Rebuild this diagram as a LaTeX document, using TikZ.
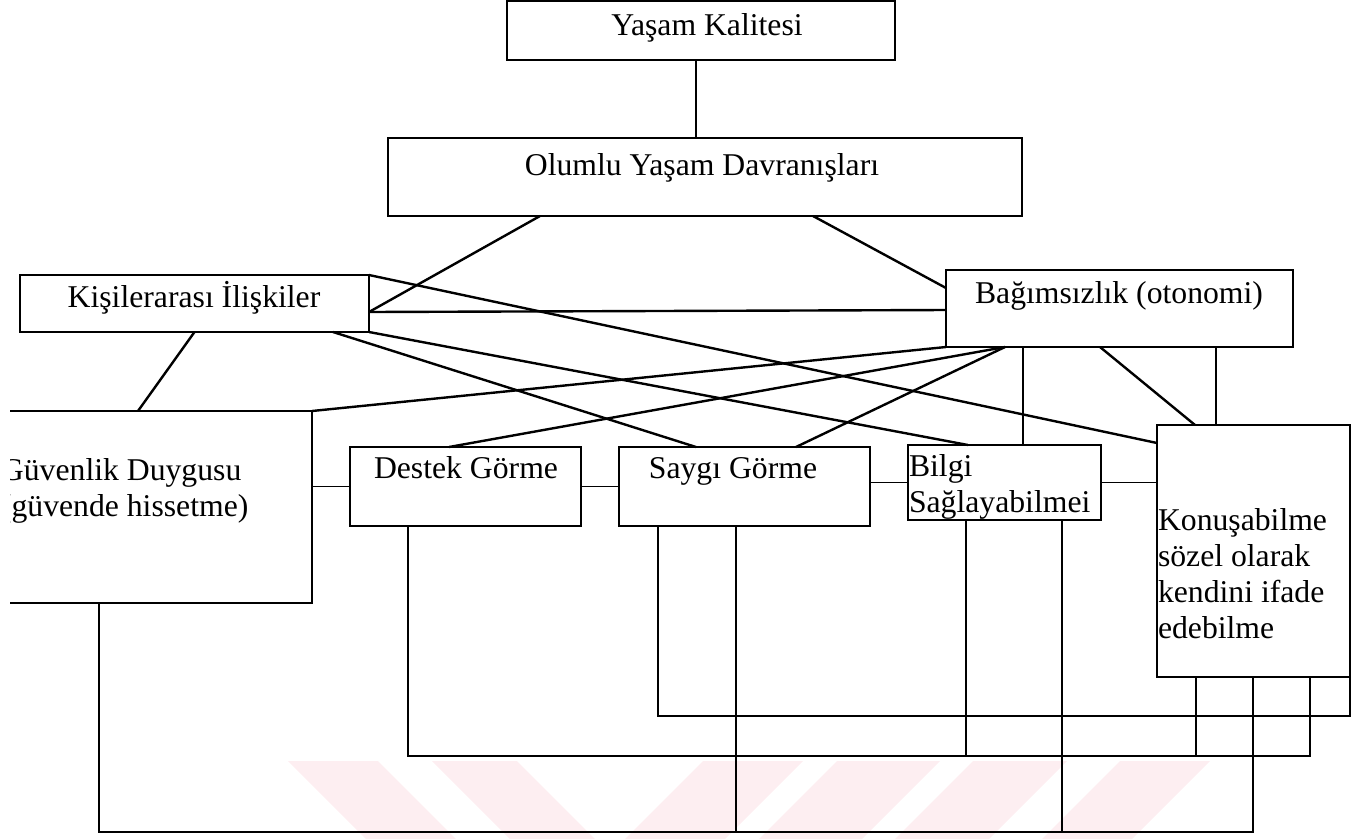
\documentclass[tikz,border=0pt]{standalone}
\usepackage{fontspec}
\setmainfont{Liberation Serif}
\definecolor{wm}{RGB}{253,238,241}
\begin{document}
\begin{tikzpicture}[x=1pt,y=-1pt,
  box/.style={draw, rectangle, inner sep=0pt, outer sep=0pt, line width=1.8pt},
  lbl/.style={inner sep=0pt, outer sep=0pt, font=\fontsize{31.7}{36}\selectfont},
  diag/.style={line width=2.4pt},
  wire/.style={line width=1.6pt}]
\useasboundingbox (0,0) rectangle (1352,839);
% watermark
\fill[wm] (288,761) -- (378,761) -- (456,839) -- (366,839) -- cycle;
\fill[wm] (432,761) -- (517,761) -- (595,839) -- (510,839) -- cycle;
\fill[wm] (703,761) -- (803,761) -- (725,839) -- (625,839) -- cycle;
\fill[wm] (837,761) -- (940,761) -- (862,839) -- (759,839) -- cycle;
\fill[wm] (973,761) -- (1067,761) -- (989,839) -- (895,839) -- cycle;
\fill[wm] (1120,761) -- (1210,761) -- (1132,839) -- (1042,839) -- cycle;
\begin{scope}
\clip (10,-5) rectangle (1360,845);
% boxes
\node[box, minimum width=388pt, minimum height=59pt] (yasam) at (701,30.5) {};
\node[box, minimum width=634pt, minimum height=78pt] (olumlu) at (705,177) {};
\node[box, minimum width=349pt, minimum height=57pt] (kisi) at (194.5,303.5) {};
\node[box, minimum width=347pt, minimum height=77pt] (bag) at (1119.5,308.5) {};
\node[box, minimum width=352pt, minimum height=192pt] (guv) at (136,507) {};
\node[box, minimum width=231pt, minimum height=79pt] (destek) at (465.5,486.5) {};
\node[box, minimum width=251pt, minimum height=79pt] (saygi) at (744.5,486.5) {};
\node[box, minimum width=193pt, minimum height=75pt] (bilgi) at (1004.5,482.5) {};
\node[box, minimum width=193pt, minimum height=252pt] (konus) at (1253.5,551) {};
% texts (multi-line: base anchor = baseline of last line)
\node[lbl, anchor=base] (yasamt) at (707,35) {Yaşam Kalitesi};
\node[lbl, anchor=base] (olumlut) at (702,175) {Olumlu Yaşam Davranışları};
\node[lbl, anchor=base] (kisit) at (194,307) {Kişilerarası İlişkiler};
\node[lbl, anchor=base] (bagt) at (1119,303) {Bağımsızlık (otonomi)};
\node[lbl, anchor=base] (destekt) at (466,478) {Destek Görme};
\node[lbl, anchor=base] (saygit) at (733,478) {Saygı Görme};
\node[lbl, anchor=base west, align=left] (bilgit) at (909,512) {Bilgi\\Sağlayabilmei};
\node[lbl, anchor=base west, align=left] (konust) at (1158,638) {Konuşabilme\\sözel olarak\\kendini ifade\\edebilme};
\node[lbl, anchor=base west, align=left] (guvt) at (1,516) {Güvenlik Duygusu\\(güvende hissetme)};
% upper connectors
\coordinate (yv) at ([xshift=-5pt]yasam.south);
\draw[wire] (yv) -- (yv |- olumlu.north);
\draw[diag] ([xshift=-165pt]olumlu.south) -- ([yshift=-8.5pt]kisi.east);
\draw[diag] ([xshift=108pt]olumlu.south) -- ([yshift=20.5pt]bag.west);
\draw[diag] ([yshift=-8.5pt]kisi.east) -- ([yshift=-1.5pt]bag.west);
\draw[diag] (kisi.north east) -- ([yshift=-18pt]konus.north west);
\draw[diag] (kisi.south east) -- ([xshift=-36.5pt]bilgi.north);
\draw[diag] ([xshift=-36pt]kisi.south east) -- ([xshift=-48.5pt]saygi.north);
\draw[diag] (kisi.south) -- ([xshift=-174pt]guv.north east);
\draw[diag] (bag.south west) -- (guv.north east);
\coordinate (bd) at ([xshift=59pt]bag.south west);
\draw[diag] (bd) -- ([xshift=-16.5pt]destek.north);
\draw[diag] (bd) -- ([xshift=51.5pt]saygi.north);
\coordinate (bb) at ([xshift=77pt]bag.south west);
\draw[wire] (bb) -- (bb |- bilgi.north);
\draw[diag] ([xshift=154pt]bag.south west) -- ([xshift=38pt]konus.north west);
\coordinate (bk) at ([xshift=-77pt]bag.south east);
\draw[wire] (bk) -- (bk |- konus.north);
% side connectors
\draw[wire] (destek.west -| guv.east) -- (destek.west);
\draw[wire] (destek.east) -- (saygi.west);
\draw[wire] (bilgi.west -| saygi.east) -- (bilgi.west);
\draw[wire] (bilgi.east) -- (bilgi.east -| konus.west);
% bottom network
\coordinate (r1) at ([yshift=-39pt]konus.south east);
\coordinate (r2) at ([xshift=-40pt,yshift=-79pt]konus.south east);
\coordinate (r3) at ([xshift=-97pt,yshift=-155pt]konus.south east);
\coordinate (gv) at ([xshift=-213pt]guv.south east);
\coordinate (dv) at ([xshift=58pt]destek.south west);
\coordinate (sv1) at ([xshift=39pt]saygi.south west);
\coordinate (sv2) at ([xshift=117pt]saygi.south west);
\coordinate (bv1) at ([xshift=58pt]bilgi.south west);
\coordinate (bv2) at ([xshift=154pt]bilgi.south west);
\coordinate (kv1) at ([xshift=39pt]konus.south west);
\coordinate (kv2) at ([xshift=96pt]konus.south west);
\coordinate (kv3) at ([xshift=153pt]konus.south west);
\draw[wire] (sv1) |- (r1) -- (konus.south east);
\draw[wire] (dv) |- (r2) -- (kv3);
\draw[wire] (gv) |- (r3) -- (kv2);
\draw[wire] (sv2) -- (sv2 |- r3);
\draw[wire] (bv1) -- (bv1 |- r2);
\draw[wire] (bv2) -- (bv2 |- r3);
\draw[wire] (kv1) -- (kv1 |- r2);
\end{scope}
\end{tikzpicture}
\end{document}
